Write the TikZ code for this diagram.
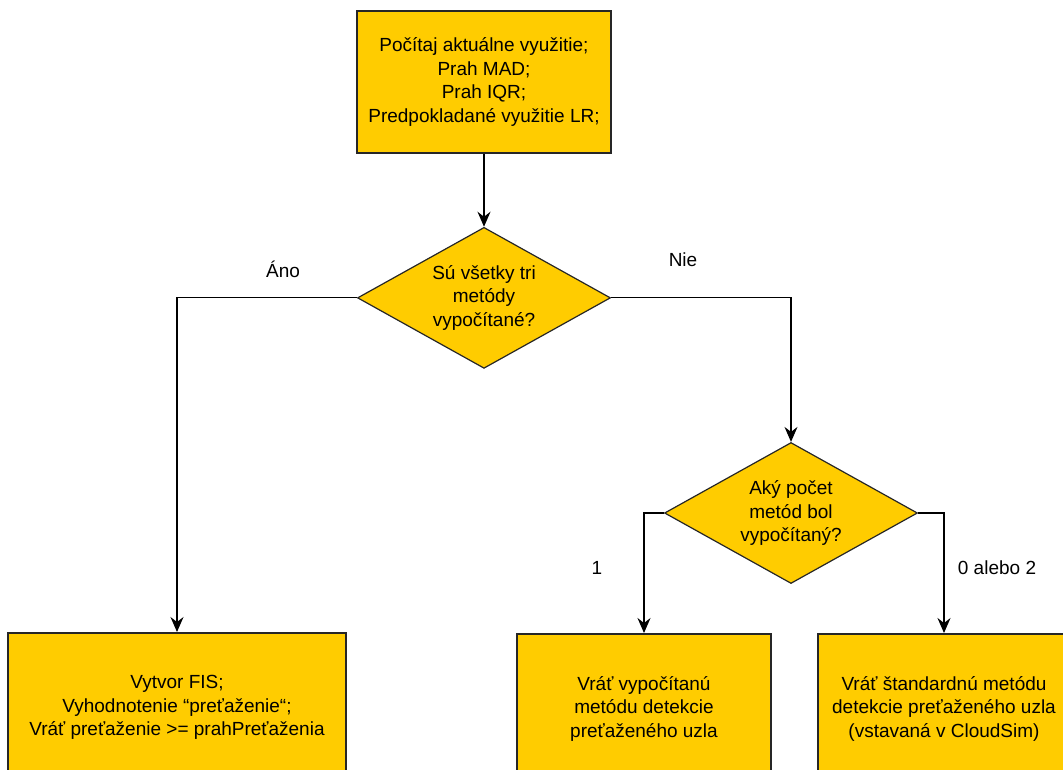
\documentclass[tikz,border=0pt]{standalone}
\usepackage{fontspec}
\setmainfont{Liberation Sans}
\usetikzlibrary{shapes.geometric,arrows.meta,positioning}
\definecolor{boxyellow}{RGB}{255,204,0}

\begin{document}
\begin{tikzpicture}[
    x=1pt, y=-1pt,
    node distance=73pt,
    every node/.style={font=\fontsize{19}{23.5}\selectfont},
    stepbox/.style={draw=black!85, line width=1.5pt, fill=boxyellow, minimum width=254pt, minimum height=142pt, align=center, inner sep=0pt},
    endbox/.style={draw=black!85, line width=1.5pt, fill=boxyellow, minimum height=150pt, align=center, inner sep=0pt, anchor=north},
    decision/.style={draw=black!85, line width=1.2pt, diamond, aspect=1.8, fill=boxyellow, minimum width=253pt, minimum height=141pt, inner sep=0pt, align=center},
    arr/.style={-{Stealth[length=15pt,width=13pt,inset=5pt]}, line width=1.2pt}
]
\clip (0,0) rectangle (1063,769);

\node[stepbox] (calc) at (484,82) {Počítaj aktuálne využitie;\\Prah MAD;\\Prah IQR;\\Predpokladané využitie LR;};
\node[decision, below=of calc] (allthree) {Sú všetky tri\\metódy\\vypočítané?};
\node[decision] (count) at (791,513) {Aký počet\\metód bol\\vypočítaný?};

\node[endbox, minimum width=338pt] (fis) at (177,632) {Vytvor FIS;\\Vyhodnotenie “preťaženie“;\\Vráť preťaženie >= prahPreťaženia};
\node[endbox, minimum width=254pt] (found) at (644,633) {Vráť vypočítanú\\metódu detekcie\\preťaženého uzla};
\node[endbox, minimum width=252pt] (default) at (944,633) {Vráť štandardnú metódu\\detekcie preťaženého uzla\\(vstavaná v CloudSim)};

% branch labels
\node (yes) at (283,269) {Áno};
\node (no) at (683,260) {Nie};
\node (one) at (597,568) {1};
\node (other) at (997,568) {0 alebo 2};

\draw[arr] (calc) -- (allthree);
\draw[arr] (allthree.west) -| (fis.north);
\draw[arr] (allthree.east) -| (count.north);
\draw[arr] (count.west) -| (found.north);
\draw[arr] (count.east) -| (default.north);
\end{tikzpicture}
\end{document}
